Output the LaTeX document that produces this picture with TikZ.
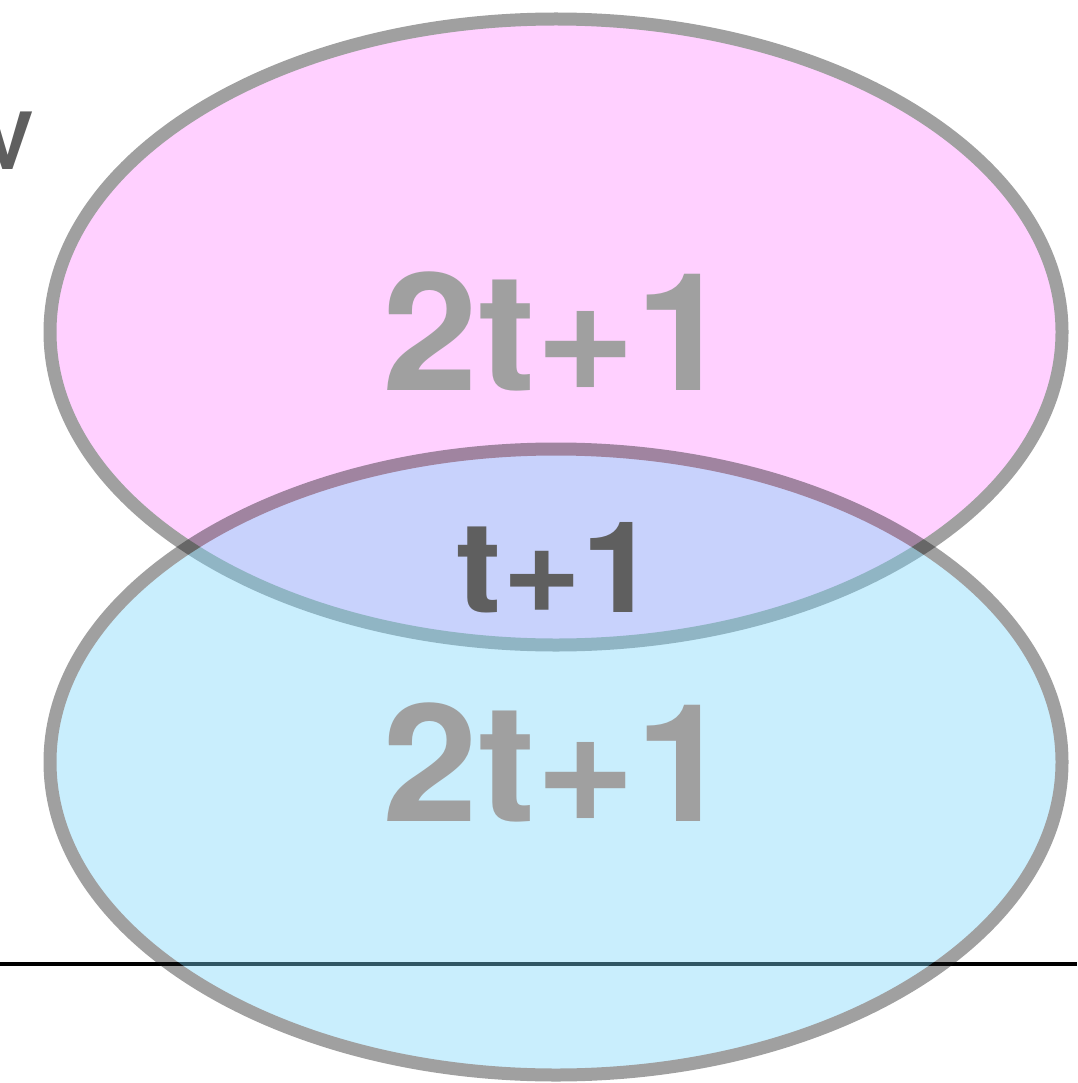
\documentclass[tikz,border=0pt]{standalone}
\usepackage{fontspec}
\setmainfont{TeX Gyre Heros}
\newfontfamily\countfont[FakeStretch=1.05]{TeX Gyre Heros}
\newfontfamily\midfont[FakeStretch=1.07]{TeX Gyre Heros}
\definecolor{pinkfill}{RGB}{255,208,255}
\definecolor{ringgray}{RGB}{160,160,160}
\definecolor{bluefill}{RGB}{121,213,250}
\definecolor{bluering}{RGB}{20,20,20}
\definecolor{darktext}{RGB}{95,95,95}
\tikzset{
  upperset/.style={fill=pinkfill, draw=ringgray, line width=13pt},
  lowerset/.style={fill=bluefill, draw=bluering, line width=13pt},
  bigcount/.style={inner sep=0pt, anchor=base, text=ringgray,
    font=\countfont\fontsize{164}{164}\selectfont\bfseries},
  midcount/.style={inner sep=0pt, anchor=base, text=darktext,
    font=\midfont\fontsize{127}{127}\selectfont\bfseries},
  axisline/.style={line width=4.5pt, draw=black}
}
\begin{document}
\begin{tikzpicture}[x=1pt,y=-1pt]
\useasboundingbox (0,0) rectangle (1077,1083);
\clip (0,0) rectangle (1077,1083);

% letter cut by the left edge
\node[inner sep=0pt, anchor=base east, text=darktext,
      font=\fontsize{79}{79}\selectfont\bfseries] (vlabel) at (34,170) {V};

% horizontal line
\coordinate (lineL) at (0,964);
\coordinate (lineR) at (1077,964);
\draw[axisline] (lineL) -- (lineR);

% upper set
\path[upperset] (556,332) ellipse [x radius=506pt, y radius=313pt];

% lower set, translucent as a whole
\begin{scope}[transparency group, opacity=0.404]
  \path[lowerset] (556,762) ellipse [x radius=506pt, y radius=313pt];
\end{scope}

% counts
\node[bigcount] (topcount) at (557,390) {2t+1};
\node[midcount] (midcount) at (557,612) {t+1};
\node[bigcount] (botcount) at (557,821) {2t+1};
\end{tikzpicture}
\end{document}
